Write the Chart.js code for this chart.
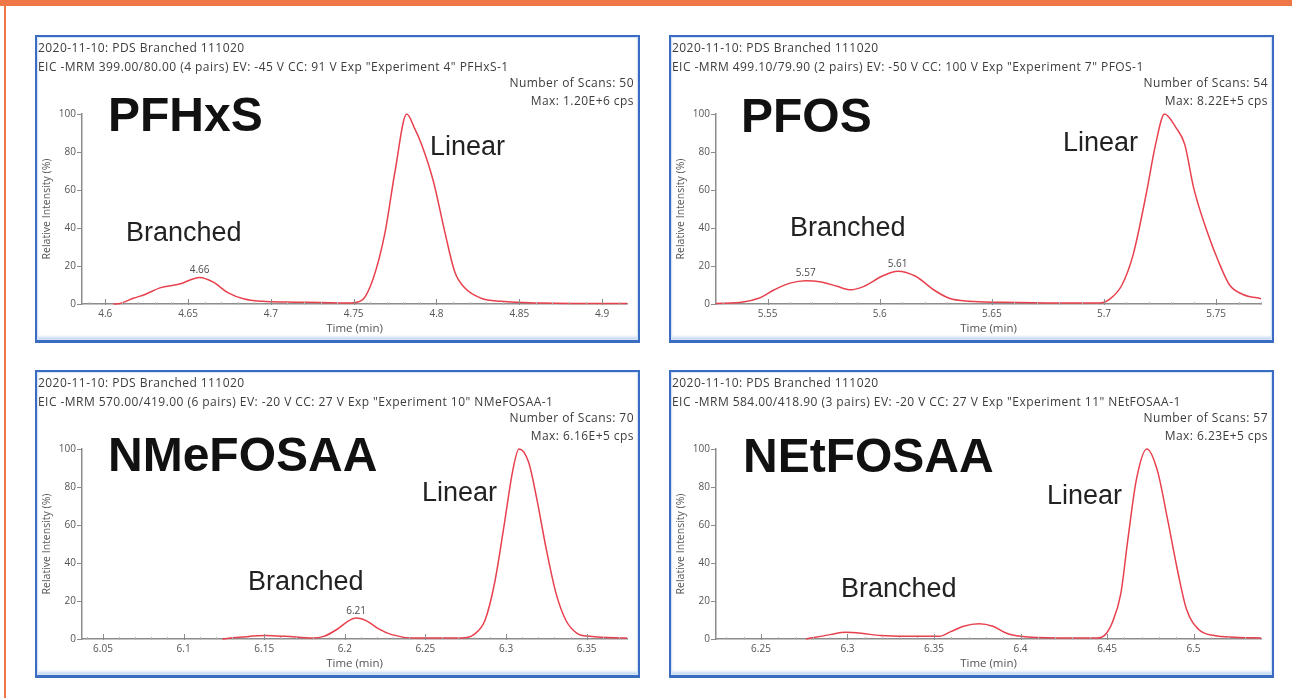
<!DOCTYPE html>
<html>
<head>
<meta charset="utf-8">
<script src="https://cdn.jsdelivr.net/npm/chart.js@4.4.1/dist/chart.umd.min.js"></script>
<style>
  body {
    margin: 0;
    width: 1292px;
    height: 698px;
    position: relative;
    overflow: hidden;
    background: #fff;
    font-family: "Open Sans", "Noto Sans", sans-serif;
  }
  .top-bar { position: absolute; left: 0; top: 0; width: 1292px; height: 6px; background: #ef7747; }
  .side-bar { position: absolute; left: 4px; top: 6px; width: 2px; height: 692px; background: #ef7747; }
  .panel {
    position: absolute;
    width: 605px;
    height: 308px;
    box-sizing: border-box;
    border: 2px solid #3a6cc2;
    border-bottom-width: 3px;
    background: #fff;
    box-shadow: inset 0 0 0 1px #d6e4f7, inset 0 -3px 3px #c3d7f1;
  }
  .panel canvas { position: absolute; left: 0; top: 0; }
  .panel__line, .panel__stat {
    position: absolute;
    font-size: 12px;
    letter-spacing: 0.45px;
    line-height: 18px;
    color: #3c3c3c;
    white-space: nowrap;
  }
  .panel__line { left: 1px; }
  .panel__stat { right: 4px; text-align: right; }
  .panel__name, .panel__label {
    position: absolute;
    font-family: "Liberation Sans", Arial, sans-serif;
    white-space: nowrap;
  }
  .panel__name { font-weight: bold; font-size: 48px; line-height: 48px; color: #111; }
  .panel__label { font-size: 27px; line-height: 27px; color: #222; }
</style>
</head>
<body>
<div class="top-bar"></div>
<div class="side-bar"></div>

<script>
// Chromatogram texts
const runLine = "2020-11-10: PDS Branched 111020";
const compounds = ["PFHxS", "PFOS", "NMeFOSAA", "NEtFOSAA"];
const eicLines = [
  'EIC -MRM 399.00/80.00 (4 pairs) EV: -45 V CC: 91 V Exp "Experiment 4" PFHxS-1',
  'EIC -MRM 499.10/79.90 (2 pairs) EV: -50 V CC: 100 V Exp "Experiment 7" PFOS-1',
  'EIC -MRM 570.00/419.00 (6 pairs) EV: -20 V CC: 27 V Exp "Experiment 10" NMeFOSAA-1',
  'EIC -MRM 584.00/418.90 (3 pairs) EV: -20 V CC: 27 V Exp "Experiment 11" NEtFOSAA-1',
];
const scanCounts = [50, 54, 70, 57];
const maxCps = ["1.20E+6", "8.22E+5", "6.16E+5", "6.23E+5"];

// Time (min) / relative intensity (%)
const pfhxsTime = [4.605, 4.609, 4.617, 4.624, 4.633, 4.645, 4.657, 4.665, 4.674, 4.684, 4.695, 4.710, 4.730, 4.748, 4.755, 4.762, 4.769, 4.775, 4.782, 4.787, 4.791, 4.798, 4.805, 4.811, 4.817, 4.827, 4.839, 4.863, 4.890, 4.915];
const pfhxsIntensity = [0, 0.3, 3, 5, 8.5, 10.5, 14, 11.6, 6, 2.6, 1.4, 1, 0.8, 0.5, 2, 14, 38, 70, 100, 92, 84, 65, 38, 17, 8.5, 3, 1.4, 0.5, 0.3, 0.2];

const pfosTime = [5.527, 5.539, 5.546, 5.553, 5.560, 5.567, 5.574, 5.581, 5.587, 5.593, 5.601, 5.608, 5.616, 5.624, 5.631, 5.640, 5.654, 5.680, 5.698, 5.703, 5.708, 5.713, 5.719, 5.723, 5.727, 5.732, 5.736, 5.740, 5.746, 5.751, 5.756, 5.762, 5.770];
const pfosIntensity = [0.3, 1, 3, 7.5, 11, 12.3, 11.6, 9.3, 7.5, 9.3, 14.6, 17.3, 14.6, 7.5, 3, 1.4, 0.9, 0.5, 0.5, 3, 10, 26, 59, 84, 100, 93, 84, 61, 38, 22.5, 10, 5, 2.8];

const nmefosaaTime = [6.124, 6.136, 6.151, 6.163, 6.180, 6.187, 6.195, 6.201, 6.207, 6.214, 6.221, 6.229, 6.243, 6.272, 6.280, 6.287, 6.293, 6.299, 6.304, 6.308, 6.314, 6.319, 6.325, 6.331, 6.337, 6.344, 6.352, 6.375];
const nmefosaaIntensity = [0, 1, 1.8, 1.4, 0.5, 1.4, 5, 8.8, 11, 9.3, 5.3, 2.3, 0.5, 0.5, 2.3, 10, 30, 61, 88, 100, 93, 74, 47, 24, 10, 3, 1.4, 0.5];

const netfosaaTime = [6.276, 6.290, 6.299, 6.308, 6.319, 6.335, 6.353, 6.360, 6.367, 6.376, 6.384, 6.392, 6.400, 6.422, 6.444, 6.449, 6.453, 6.458, 6.462, 6.467, 6.473, 6.479, 6.485, 6.491, 6.496, 6.503, 6.512, 6.524, 6.539];
const netfosaaIntensity = [0, 2.3, 3.5, 3, 1.8, 1.4, 1.4, 4, 6.7, 8, 6.7, 3, 1.4, 0.5, 0.5, 2.3, 8.5, 24, 52, 84, 100, 89, 63, 35, 15.5, 5, 1.8, 0.9, 0.5];

// Axis ranges and tick labels
const timeRanges = [[4.586, 4.915], [5.527, 5.770], [6.037, 6.375], [6.224, 6.539]];
const pfhxsTicks = [4.6, 4.65, 4.7, 4.75, 4.8, 4.85, 4.9];
const pfosTicks = [5.55, 5.6, 5.65, 5.7, 5.75];
const nmefosaaTicks = [6.05, 6.1, 6.15, 6.2, 6.25, 6.3, 6.35];
const netfosaaTicks = [6.25, 6.3, 6.35, 6.4, 6.45, 6.5];
const intensityTicks = [0, 20, 40, 60, 80, 100];

// Retention times printed above peaks
const pfhxsPeaks = [{ x: 4.657, y: 14, text: "4.66" }];
const pfosPeaks = [{ x: 5.567, y: 12.3, text: "5.57" }, { x: 5.608, y: 17.3, text: "5.61" }];
const nmefosaaPeaks = [{ x: 6.207, y: 11, text: "6.21" }];
const netfosaaPeaks = [];

const traces = [
  { time: pfhxsTime, intensity: pfhxsIntensity, ticks: pfhxsTicks, peaks: pfhxsPeaks },
  { time: pfosTime, intensity: pfosIntensity, ticks: pfosTicks, peaks: pfosPeaks },
  { time: nmefosaaTime, intensity: nmefosaaIntensity, ticks: nmefosaaTicks, peaks: nmefosaaPeaks },
  { time: netfosaaTime, intensity: netfosaaIntensity, ticks: netfosaaTicks, peaks: netfosaaPeaks },
];

// Panel placement and label positions (px, baseline for labels)
const panelBoxes = [[35, 35], [669, 35], [35, 370], [669, 370]];
const nameSpots = [[71, 95], [70, 96], [71, 100], [72, 101]];
const linearSpots = [[393, 119], [392, 115], [385, 130], [376, 133]];
const branchedSpots = [[89, 205], [119, 200], [211, 219], [170, 226]];

const lineColor = "#e8414e";
const axisColor = "#8c8c8c";
const tickFont = { family: "'Open Sans', sans-serif", size: 10 };

// baseline -> top for Liberation Sans with line-height = font size
function topFromBaseline(baseline, size) {
  return baseline - 0.8465 * size;
}

// inner x ticks (major + minor) and peak labels, placed through the scales
const chromPlugin = {
  id: "chromDecor",
  afterDraw(chart) {
    const { ctx } = chart;
    const xScale = chart.scales.x;
    const yScale = chart.scales.y;
    const axisY = yScale.getPixelForValue(0);
    const trace = chart.options.plugins.chromDecor;

    ctx.save();
    ctx.lineWidth = 1;
    let start = Math.ceil(xScale.min * 100);
    for (let i = start; i / 100 <= xScale.max; i++) {
      let px = Math.round(xScale.getPixelForValue(i / 100)) + 0.5;
      let major = i % 5 === 0;
      ctx.strokeStyle = major ? axisColor : "#b4b4b4";
      ctx.beginPath();
      ctx.moveTo(px, axisY + 1);
      ctx.lineTo(px, axisY - (major ? 5 : 2));
      ctx.stroke();
    }

    ctx.fillStyle = "#4a4a4a";
    ctx.font = "10px 'Open Sans', sans-serif";
    ctx.textAlign = "center";
    ctx.textBaseline = "bottom";
    trace.peaks.forEach((peak) => {
      ctx.fillText(
        peak.text,
        xScale.getPixelForValue(peak.x),
        yScale.getPixelForValue(peak.y) - 2
      );
    });
    ctx.restore();
  },
};

traces.forEach((trace, idx) => {
  let [left, top] = panelBoxes[idx];
  let panel = document.createElement("div");
  panel.classList.add("panel");
  panel.style.left = `${left}px`;
  panel.style.top = `${top}px`;
  panel.innerHTML = `
    <canvas width="601" height="303"></canvas>
    <div class="panel__line" style="top:1.5px">${runLine}</div>
    <div class="panel__line" style="top:20.5px">${eicLines[idx]}</div>
    <div class="panel__stat" style="top:36.5px">Number of Scans: ${scanCounts[idx]}</div>
    <div class="panel__stat" style="top:54.5px">Max: ${maxCps[idx]} cps</div>
    <div class="panel__name" style="left:${nameSpots[idx][0]}px;top:${topFromBaseline(nameSpots[idx][1], 48)}px">${compounds[idx]}</div>
    <div class="panel__label" style="left:${linearSpots[idx][0]}px;top:${topFromBaseline(linearSpots[idx][1], 27)}px">Linear</div>
    <div class="panel__label" style="left:${branchedSpots[idx][0]}px;top:${topFromBaseline(branchedSpots[idx][1], 27)}px">Branched</div>
  `;
  document.body.appendChild(panel);

  let [tMin, tMax] = timeRanges[idx];

  new Chart(panel.querySelector("canvas"), {
    type: "line",
    data: {
      datasets: [
        {
          data: trace.time.map((t, i) => ({ x: t, y: trace.intensity[i] })),
          borderColor: lineColor,
          borderWidth: 1.5,
          pointRadius: 0,
          fill: false,
          cubicInterpolationMode: "monotone",
          clip: 4,
        },
      ],
    },
    options: {
      responsive: false,
      animation: false,
      layout: { padding: { top: 77, right: 11, left: 0, bottom: 0 } },
      plugins: {
        legend: { display: false },
        tooltip: { enabled: false },
        chromDecor: { peaks: trace.peaks },
      },
      scales: {
        x: {
          type: "linear",
          min: tMin,
          max: tMax,
          afterBuildTicks: (scale) => {
            scale.ticks = trace.ticks.map((v) => ({ value: v }));
          },
          afterFit: (scale) => {
            scale.height = 36;
          },
          grid: { display: false, drawTicks: false },
          border: { display: true, color: axisColor, width: 1.5 },
          ticks: {
            autoSkip: false,
            maxRotation: 0,
            padding: 4,
            color: "#555",
            font: tickFont,
            callback: (value) => String(Number(value.toFixed(2))),
          },
          title: {
            display: true,
            text: "Time (min)",
            color: "#555",
            font: { family: "'Open Sans', sans-serif", size: 11.5 },
            padding: { top: 0, bottom: 4 },
          },
        },
        y: {
          min: 0,
          max: 100,
          afterBuildTicks: (scale) => {
            scale.ticks = intensityTicks.map((v) => ({ value: v }));
          },
          afterFit: (scale) => {
            scale.width = 45;
          },
          grid: { drawOnChartArea: false, drawTicks: true, tickLength: 5, color: axisColor },
          border: { display: true, color: axisColor, width: 1.5 },
          ticks: { padding: 1, color: "#555", font: tickFont },
          title: {
            display: true,
            text: "Relative Intensity (%)",
            color: "#555",
            font: { family: "'Open Sans', sans-serif", size: 10.5 },
            padding: { top: 4, bottom: 0 },
          },
        },
      },
    },
    plugins: [chromPlugin],
  });
});
</script>
</body>
</html>
